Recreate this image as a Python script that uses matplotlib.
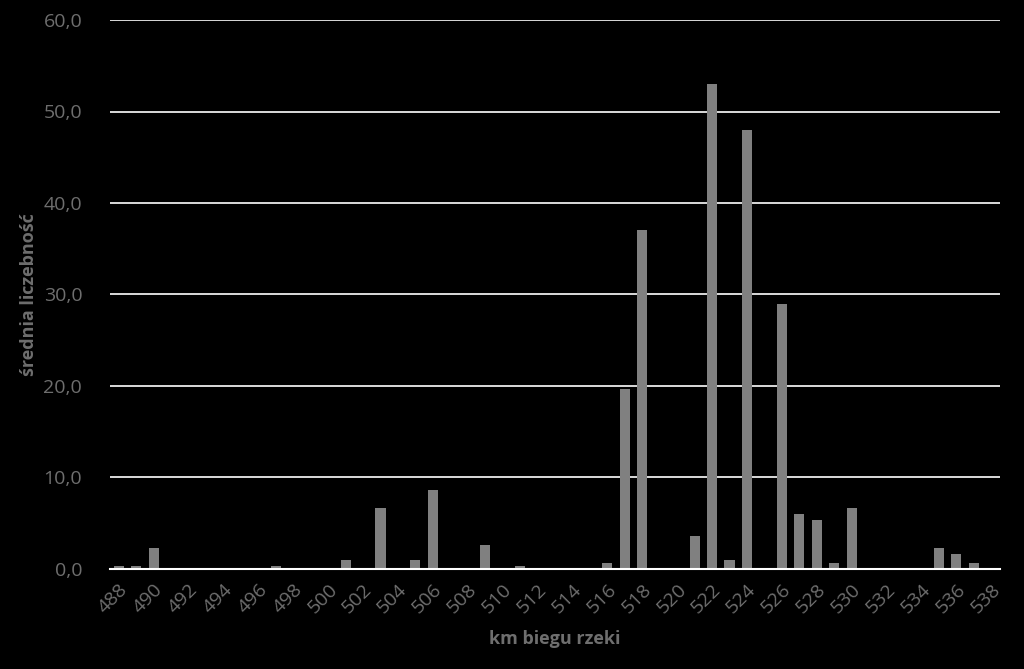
import matplotlib.pyplot as plt
from matplotlib.ticker import FuncFormatter, MultipleLocator

# km of the river and mean abundance
km = list(range(488, 539))
values = {
    488: 0.33, 489: 0.33, 490: 2.3, 497: 0.33, 501: 1.0, 503: 6.67,
    505: 1.0, 506: 8.6, 509: 2.6, 511: 0.33, 516: 0.67, 517: 19.7,
    518: 37.0, 521: 3.6, 522: 53.0, 523: 1.0, 524: 48.0, 526: 29.0,
    527: 6.0, 528: 5.3, 529: 0.67, 530: 6.67, 535: 2.3, 536: 1.67,
    537: 0.67,
}
heights = [values.get(k, 0) for k in km]
xtick_labels = [str(k) for k in km[::2]]

text_color = '#6e6e6e'
bar_color = '#808080'

plt.rcParams['font.family'] = ['Open Sans', 'DejaVu Sans']

fig = plt.figure(figsize=(10.24, 6.69), dpi=100, facecolor='black')
ax = fig.add_axes([0.1074, 0.1495, 0.8692, 0.8206], facecolor='black')

x = list(range(len(km)))
ax.bar(x, heights, width=0.58, color=bar_color, zorder=3)

ax.set_xlim(-0.5, len(km) - 0.5)
ax.set_ylim(0, 60)
ax.yaxis.set_major_locator(MultipleLocator(10))
ax.yaxis.set_major_formatter(FuncFormatter(lambda v, p: f'{v:.1f}'.replace('.', ',')))
ax.grid(axis='y', color='white', linewidth=1.2, zorder=0)

ax.set_xticks(x[::2])
ax.set_xticklabels(xtick_labels, rotation=45, ha='right', rotation_mode='anchor')

for s in ['top', 'right', 'left']:
    ax.spines[s].set_visible(False)
ax.spines['bottom'].set_color('white')
ax.spines['bottom'].set_linewidth(1.5)
ax.spines['bottom'].set_zorder(4)

ax.tick_params(axis='y', length=0, labelcolor=text_color, labelsize=14, pad=20)
ax.tick_params(axis='x', length=0, labelcolor=text_color, labelsize=14, pad=8)

ax.set_xlabel('km biegu rzeki', color=text_color, fontsize=13, fontweight='bold', labelpad=10)
ax.set_ylabel('średnia liczebność', color=text_color, fontsize=13, fontweight='bold', labelpad=4)

fig.savefig('out.png', dpi=100, facecolor='black')
